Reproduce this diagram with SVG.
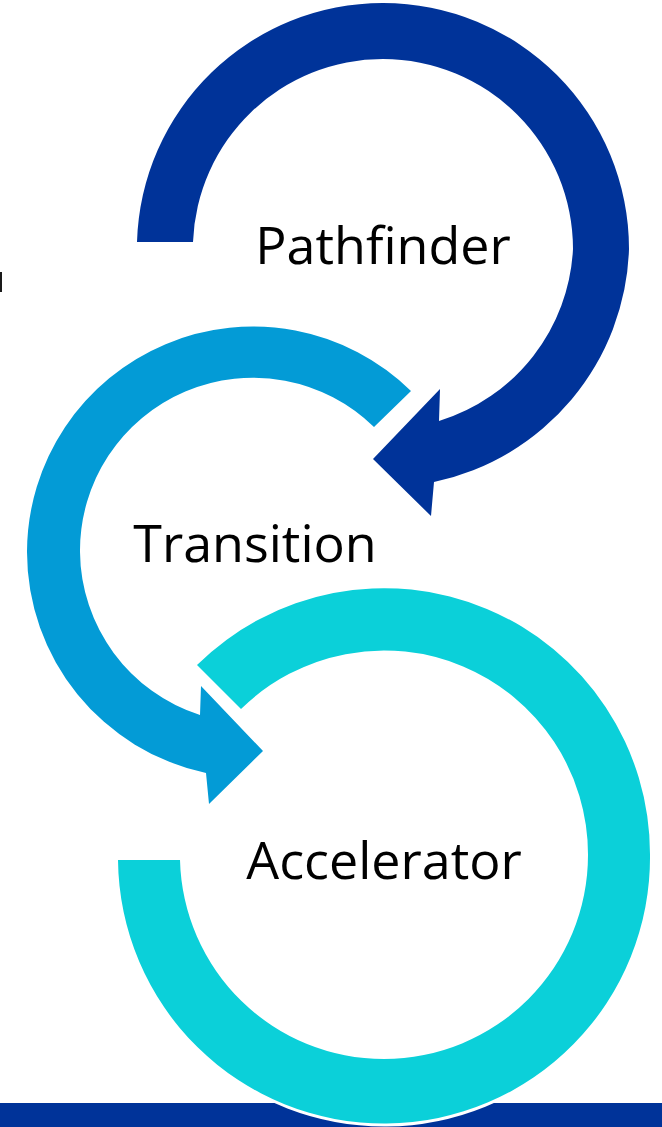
<svg xmlns="http://www.w3.org/2000/svg" width="662" height="1127" viewBox="0 0 662 1127">
  <style>
    .lbl { font-family: "Open Sans", "Noto Sans", "Liberation Sans", sans-serif; font-size: 52px; fill: #000000; text-anchor: middle; }
    .dark { fill: #003399; }
    .mid { fill: #039BD6; }
    .cyan { fill: #0BD0D9; stroke: #FFFFFF; stroke-width: 6; paint-order: stroke; }
  </style>
  <rect id="bottom-bar" x="0" y="1103" width="662" height="24" fill="#003399"/>
  <rect id="edge-fragment" x="0" y="272" width="2" height="20" fill="#1a1a1a"/>
  <g id="connectors">
    <path id="arc-pathfinder" class="dark" d="M 137 242 A 246 246 0 0 1 383 3 A 246 246 0 0 1 629 249 A 246 246 0 0 1 434 482 L 431 516 L 373 459 L 440 389 L 439 421 A 190 190 0 0 0 573 249 A 190 190 0 0 0 383 59 A 190 190 0 0 0 193 242 Z"/>
    <path id="arc-transition" class="mid" d="M 411 391 A 226 226 0 0 0 27 552 A 226 226 0 0 0 206 773 L 209 804 L 263 751 L 201 686 L 200 715 A 173 173 0 0 1 80 552 A 173 173 0 0 1 374 427 Z"/>
    <path id="arc-accelerator" class="cyan" d="M 197 665 A 266 266 0 0 1 650 855 A 266 266 0 0 1 118 860 L 180 860 A 204 204 0 0 0 384 1059 A 204 204 0 0 0 588 855 A 204 204 0 0 0 241 709 Z"/>
  </g>
  <g id="node-pathfinder">
    <text class="lbl" x="383" y="264">Pathfinder</text>
  </g>
  <g id="node-transition">
    <text class="lbl" x="255" y="562">Transition</text>
  </g>
  <g id="node-accelerator">
    <text class="lbl" x="384" y="879">Accelerator</text>
  </g>
</svg>
